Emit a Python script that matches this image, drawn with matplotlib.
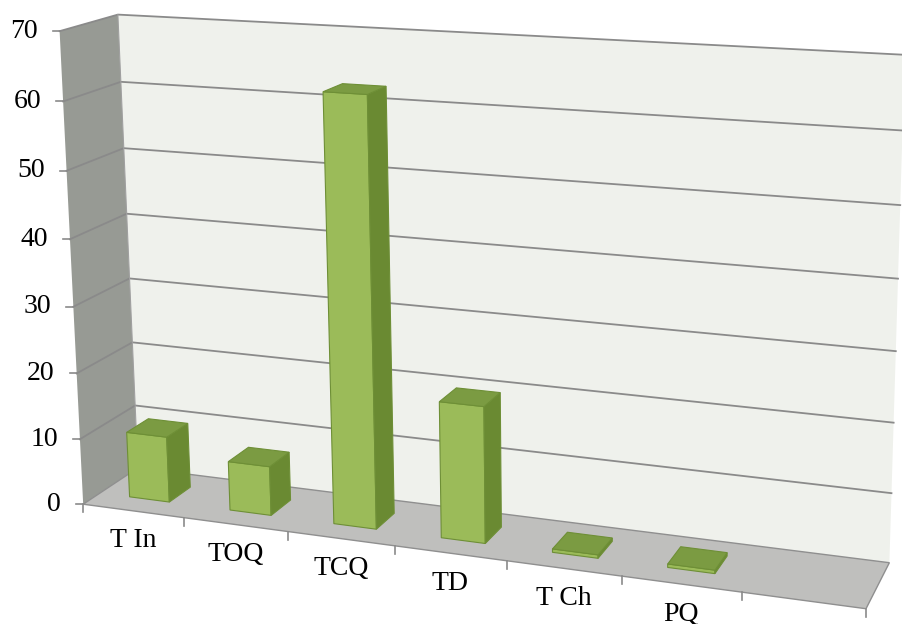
import matplotlib.pyplot as plt
from matplotlib.patches import Polygon
import numpy as np

plt.rcParams['font.family'] = ['Liberation Serif', 'DejaVu Serif']

categories = ['T In', 'TOQ', 'TCQ', 'TD', 'T Ch', 'PQ', '']
values = [10, 7.4, 62.7, 20, 0.5, 0.5, None]
y_ticks = [0, 10, 20, 30, 40, 50, 60, 70]
y_max = 70

# where some corners of the 3d box land in the picture:
# (slot, value, depth) -> pixel
anchors = [
    ((0, 0, 0), (83, 502)),
    ((0, 10, 0), (81, 437)),
    ((0, 60, 0), (63, 101)),
    ((0, 70, 0), (60, 31)),
    ((0, 70, 1), (118, 15)),
    ((0, 60, 1), (120, 82)),
    ((0, 10, 1), (135, 406)),
    ((0, 0, 1), (138, 469)),
    ((7, 0, 0), (865, 610)),
    ((7, 0, 1), (890, 560)),
    ((7, 70, 1), (905, 55)),
    ((1, 0, 0), (183, 520)),
    ((2, 0, 0), (288, 533)),
    ((3, 0, 0), (395, 545)),
    ((4, 0, 0), (507, 560)),
    ((5, 0, 0), (622, 577)),
    ((6, 0, 0), (742, 593)),
]


def fit_camera(pairs):
    rows = []
    for (X, Y, Z), (u, v) in pairs:
        p = [X, Y / 10.0, Z, 1.0]
        u, v = u / 100.0, v / 100.0
        rows.append([*p, 0, 0, 0, 0, *[-u * c for c in p]])
        rows.append([0, 0, 0, 0, *p, *[-v * c for c in p]])
    _, _, vt = np.linalg.svd(np.array(rows))
    return vt[-1].reshape(3, 4)


P = fit_camera(anchors)


def proj(X, Y, Z):
    h = P @ np.array([X, Y / 10.0, Z, 1.0])
    return h[0] / h[2] * 100.0, h[1] / h[2] * 100.0


_, _, vt = np.linalg.svd(P)
cam = vt[-1][:3] / vt[-1][3]
cam[1] *= 10.0

n = len(categories)
grid_c = '#8a8a8a'

fig = plt.figure(figsize=(9.02, 6.24), dpi=100)
ax = fig.add_axes([0, 0, 1, 1])
ax.set_xlim(0, 902)
ax.set_ylim(624, 0)
ax.axis('off')


def face(pts, fc, ec='none', lw=0.8, z=1):
    ax.add_patch(Polygon([proj(*p) for p in pts], closed=True, fc=fc, ec=ec,
                         lw=lw, zorder=z, joinstyle='miter'))


# walls and floor
face([(0, 0, 1), (n, 0, 1), (n, y_max, 1), (0, y_max, 1)], '#eff1ec', z=1)
face([(0, 0, 0), (0, 0, 1), (0, y_max, 1), (0, y_max, 0)], '#979a94', z=1)
face([(0, 0, 0), (n, 0, 0), (n, 0, 1), (0, 0, 1)], '#bfbfbd', ec='#8f8f8f', lw=1.0, z=2)

for t in y_ticks[1:]:
    pts = [proj(0, t, 0), proj(0, t, 1), proj(n, t, 1)]
    ax.plot([p[0] for p in pts], [p[1] for p in pts], color=grid_c, lw=1.3, zorder=3)
pts = [proj(0, 0, 1), proj(0, y_max, 1)]
ax.plot([p[0] for p in pts], [p[1] for p in pts], color='#a0a0a0', lw=0.8, zorder=3)

# value axis ticks and labels
for t in y_ticks:
    x, y = proj(0, t, 0)
    ax.plot([x - 7, x], [y, y], color=grid_c, lw=1.2, zorder=3)
    ax.text(x - 22, y, str(t), ha='right', va='center', fontsize=20, color='black')

# category ticks and labels
for i in range(n + 1):
    x, y = proj(i, 0, 0)
    ax.plot([x, x], [y, y + 8], color=grid_c, lw=1.2, zorder=3)
for i, lab in enumerate(categories):
    x, y = proj(i + 0.5, 0, 0)
    ax.text(x, y + 30, lab, ha='center', va='center', fontsize=20, color='black')

# bars
front_c, top_c, side_c, edge_c = '#9bbb59', '#7b9b42', '#6a8a32', '#6e8f36'
bw, z0, z1 = 0.4, 0.3, 0.7
for i, v in enumerate(values):
    if v is None:
        continue
    x0 = i + (1 - bw) / 2
    x1 = x0 + bw
    zz = 5 + i
    if cam[2] < z0:
        face([(x0, 0, z0), (x1, 0, z0), (x1, v, z0), (x0, v, z0)], front_c, edge_c, z=zz)
    if cam[0] > x1:
        face([(x1, 0, z0), (x1, 0, z1), (x1, v, z1), (x1, v, z0)], side_c, edge_c, z=zz)
    elif cam[0] < x0:
        face([(x0, 0, z0), (x0, 0, z1), (x0, v, z1), (x0, v, z0)], side_c, edge_c, z=zz)
    if cam[1] > v:
        face([(x0, v, z0), (x1, v, z0), (x1, v, z1), (x0, v, z1)], top_c, edge_c, z=zz)

fig.savefig('out.png', dpi=100)
